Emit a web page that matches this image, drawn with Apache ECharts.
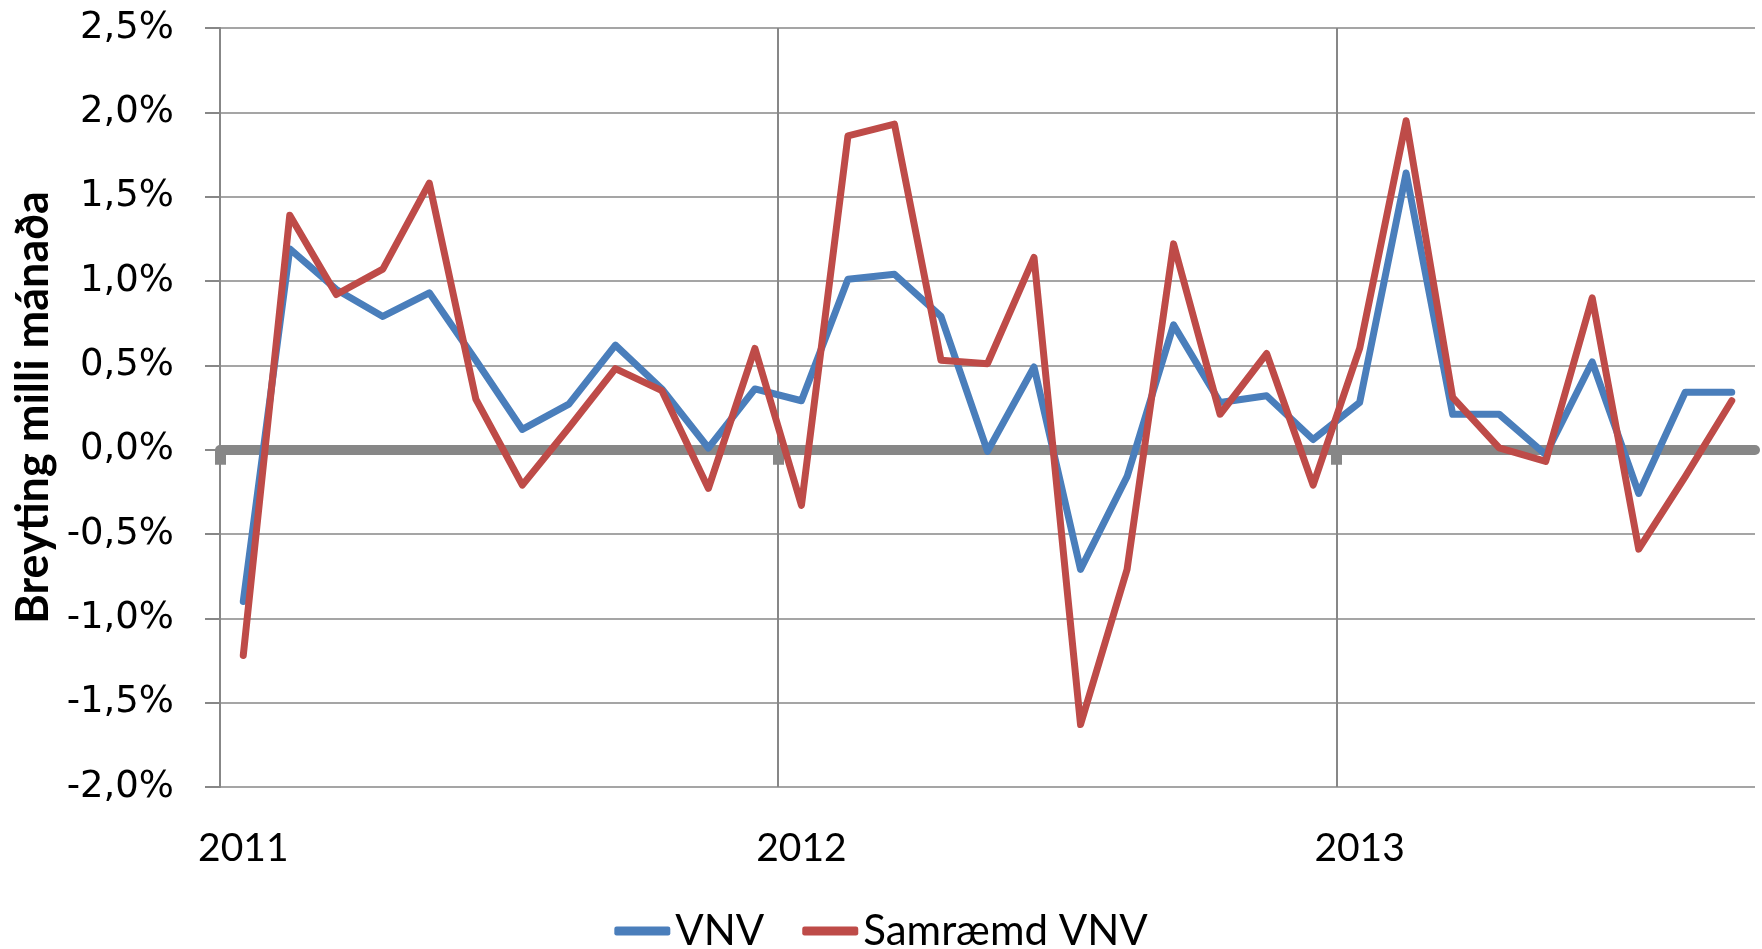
<!DOCTYPE html>
<html>
<head>
<meta charset="utf-8">
<title>VNV</title>
<script src="https://cdn.jsdelivr.net/npm/echarts@6/dist/echarts.min.js"></script>
<style>
  html, body { margin: 0; padding: 0; background: #fff; }
  #chartmain { width: 1762px; height: 949px; }
</style>
</head>
<body>
<div id="chartmain"></div>
<script>
// mánuðir jan 2011 - sep 2013
var years = ['2011', '2012', '2013'];
var months = [];
years.forEach(function (y) {
    for (var m = 1; m <= 12; m++) {
        if (months.length < 33) months.push(y + '-' + (m < 10 ? '0' + m : m));
    }
});
// mánaðamót (ein fleiri en mánuðir), bara fyrir lóðréttu línurnar og núll-ásinn
var bounds = months.concat(['2013-10']);

// breyting milli mánaða, %
var vnv = [-0.90, 1.19, 0.95, 0.79, 0.93, 0.53, 0.12, 0.27, 0.62, 0.36, 0.01, 0.36,
           0.29, 1.01, 1.04, 0.79, -0.01, 0.49, -0.71, -0.16, 0.74, 0.28, 0.32, 0.06,
           0.28, 1.64, 0.21, 0.21, -0.03, 0.52, -0.26, 0.34, 0.34];
var samraemd = [-1.22, 1.39, 0.92, 1.07, 1.58, 0.30, -0.21, 0.13, 0.48, 0.35, -0.23, 0.60,
                -0.33, 1.86, 1.93, 0.53, 0.51, 1.14, -1.63, -0.71, 1.22, 0.21, 0.57, -0.21,
                0.60, 1.95, 0.31, 0.01, -0.07, 0.90, -0.59, -0.16, 0.29];

var yTicks = { min: -2, max: 2.5, interval: 0.5 };
var gray = '#878787';

var myChart = echarts.init(document.getElementById('chartmain'));
var option = {
    animation: false,
    backgroundColor: '#fff',
    grid: { left: 220, right: 7, top: 28, bottom: 162 },
    legend: {
        data: ['VNV', 'Samræmd VNV'],
        left: 'center',
        top: 905,
        icon: 'roundRect',
        itemWidth: 56,
        itemHeight: 9,
        itemGap: 38,
        textStyle: { fontFamily: 'Lato', fontSize: 42, color: '#000' }
    },
    xAxis: [
        {
            type: 'category',
            data: months,
            boundaryGap: true,
            position: 'bottom',
            axisLine: { show: false, onZero: false },
            axisTick: { show: false },
            splitLine: { show: false },
            axisLabel: {
                interval: function (idx) { return idx % 12 === 0; },
                formatter: function (v) { return v.slice(0, 4); },
                margin: 42,
                fontFamily: 'Lato',
                fontSize: 39,
                color: '#000'
            }
        },
        {
            type: 'category',
            data: bounds,
            boundaryGap: false,
            position: 'bottom',
            axisLine: { show: true, onZero: true, lineStyle: { color: gray, width: 10 } },
            axisTick: {
                show: true,
                interval: function (idx) { return idx % 12 === 0; },
                length: 15,
                lineStyle: { color: gray, width: 11 }
            },
            splitLine: {
                show: true,
                interval: function (idx) { return idx % 12 === 0; },
                lineStyle: { color: gray, width: 2 }
            },
            axisLabel: { show: false }
        }
    ],
    yAxis: {
        type: 'value',
        min: yTicks.min,
        max: yTicks.max,
        interval: yTicks.interval,
        name: 'Breyting milli mánaða',
        nameLocation: 'middle',
        nameRotate: 90,
        nameGap: 164,
        nameTextStyle: { fontFamily: 'Lato', fontWeight: 'bold', fontSize: 45, color: '#000' },
        axisLine: { show: true, lineStyle: { color: gray, width: 2 } },
        axisTick: { show: true, length: 15, lineStyle: { color: gray, width: 2 } },
        splitLine: { show: true, lineStyle: { color: gray, width: 1.5 } },
        axisLabel: {
            margin: 46,
            fontFamily: 'DejaVu Sans',
            fontSize: 37,
            color: '#000',
            formatter: function (v) { return v.toFixed(1).replace('.', ',') + '%'; }
        }
    },
    series: [
        {
            name: 'VNV',
            type: 'line',
            data: vnv,
            symbol: 'none',
            color: '#4a7ebb',
            lineStyle: { width: 7, join: 'round', cap: 'round' }
        },
        {
            name: 'Samræmd VNV',
            type: 'line',
            data: samraemd,
            symbol: 'none',
            color: '#be4b48',
            lineStyle: { width: 7, join: 'round', cap: 'round' }
        }
    ]
};
myChart.setOption(option);
</script>
</body>
</html>
